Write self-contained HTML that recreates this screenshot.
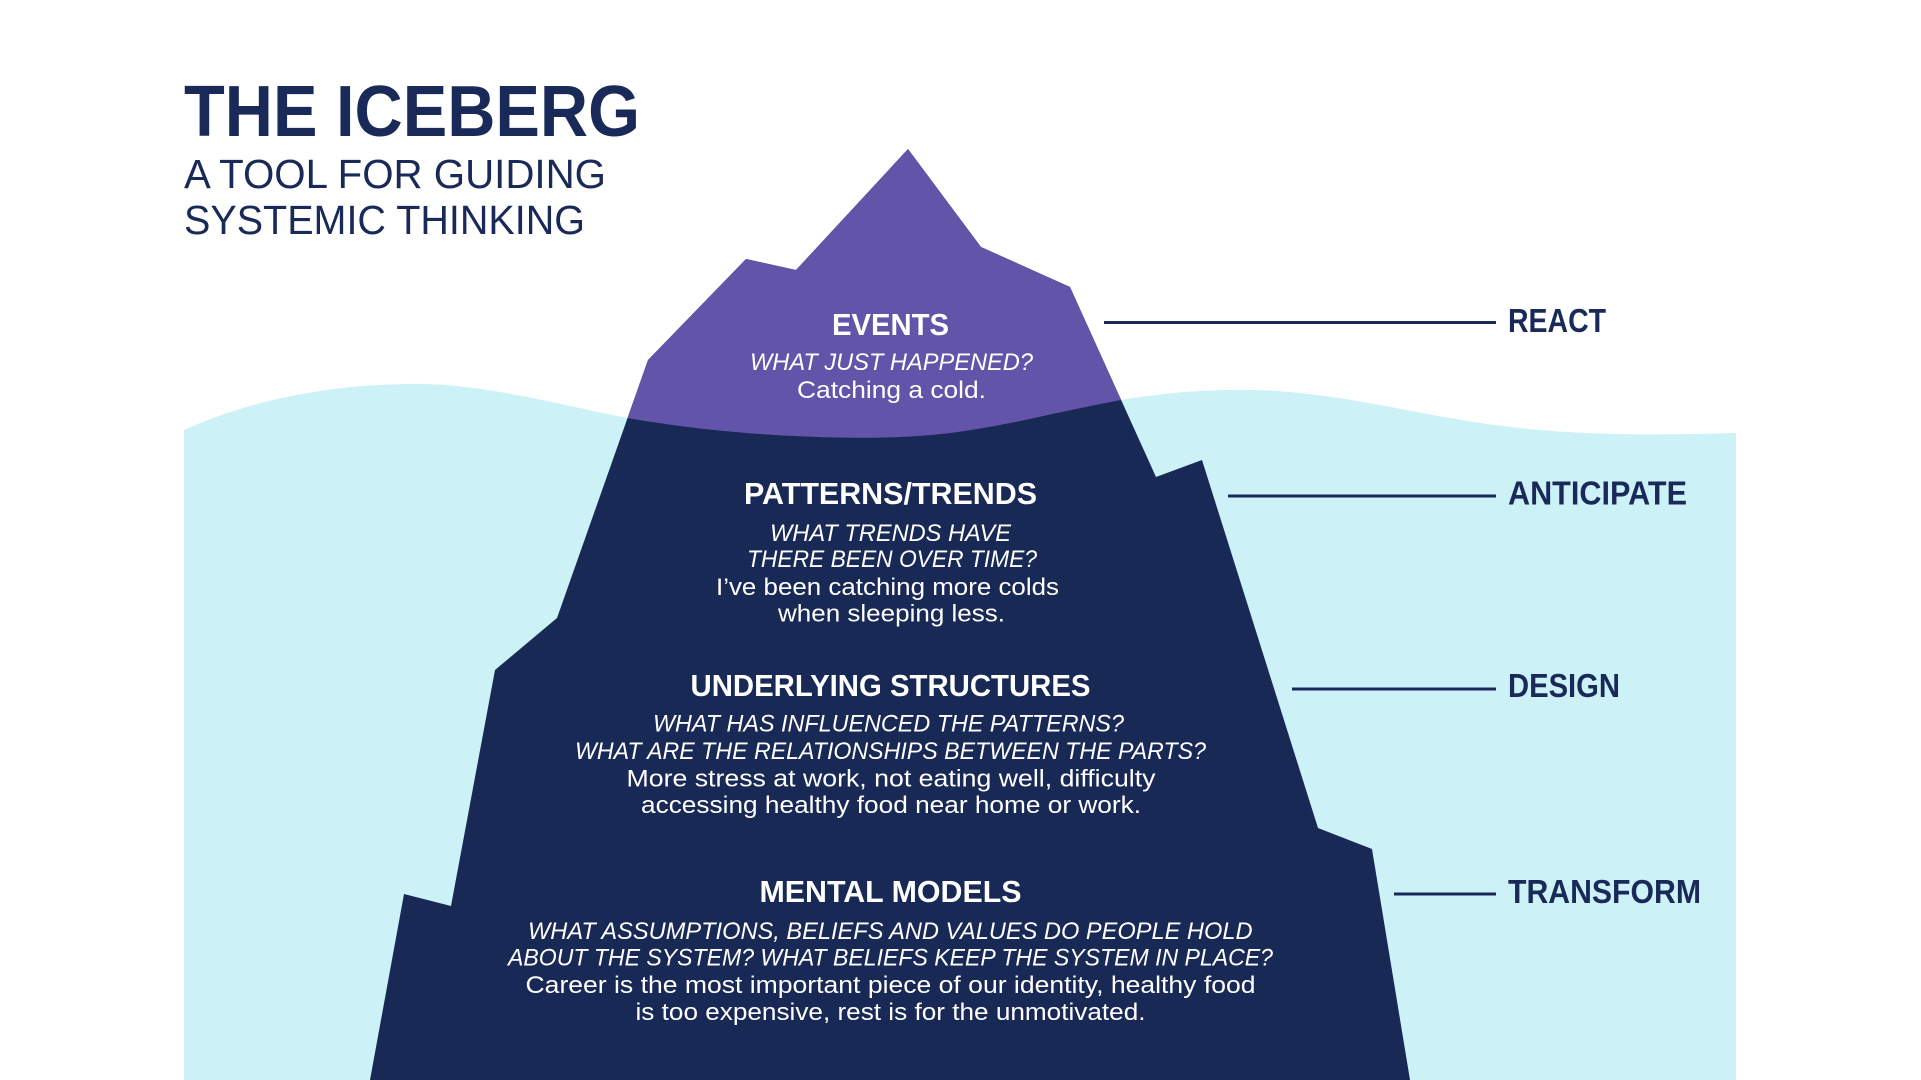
<!DOCTYPE html>
<html>
<head>
<meta charset="utf-8">
<style>
html,body{margin:0;padding:0;background:#ffffff;width:1921px;height:1080px;overflow:hidden}
svg{display:block}
.h{font-family:"Liberation Sans",Arial,sans-serif;font-weight:bold;fill:#ffffff}
.q{font-family:"Liberation Sans",Arial,sans-serif;font-style:italic;fill:#ffffff}
.b{font-family:"Liberation Sans",Arial,sans-serif;fill:#ffffff}
.lbl{font-family:"Liberation Sans",Arial,sans-serif;font-weight:bold;fill:#1a2a58}
</style>
</head>
<body>
<svg width="1921" height="1080" viewBox="0 0 1921 1080" xmlns="http://www.w3.org/2000/svg">
  <defs>
    <clipPath id="above">
      <path d="M0,0 L1921,0 L1921,433 L1736,433 C1600,437 1530,432 1450,418 C1400,410 1330,392 1254,390 C1210,389 1170,392 1121,400 C1040,415 980,434 900,437 C820,440 720,434 627,418 C540,400 480,384 416,384 C330,384 250,400 184,430 L0,430 Z"/>
    </clipPath>
  </defs>

  <rect x="0" y="0" width="1921" height="1080" fill="#ffffff"/>

  <!-- water -->
  <path d="M184,430 C250,400 330,384 416,384 C480,384 540,400 627,418 C720,434 820,440 900,437 C980,434 1040,415 1121,400 C1170,392 1210,389 1254,390 C1330,392 1400,410 1450,418 C1530,432 1600,437 1736,433 L1736,1080 L184,1080 Z" fill="#ccf2f8"/>

  <!-- iceberg (underwater navy) -->
  <polygon points="908,149 981,247 1070,287 1156,477 1202,460 1318,828 1372,849 1410,1080 370,1080 404,894 451,906 495,670 557,618 648,360 746,259 796,270" fill="#182955"/>
  <!-- iceberg tip (purple, above water) -->
  <polygon clip-path="url(#above)" points="908,149 981,247 1070,287 1156,477 1202,460 1318,828 1372,849 1410,1080 370,1080 404,894 451,906 495,670 557,618 648,360 746,259 796,270" fill="#6254a8"/>

  <!-- title -->
  <text class="lbl" x="184" y="136" font-size="72" textLength="456" lengthAdjust="spacingAndGlyphs">THE ICEBERG</text>
  <text x="184" y="188" font-family="Liberation Sans, Arial, sans-serif" font-size="41" fill="#1a2a58" textLength="422" lengthAdjust="spacingAndGlyphs">A TOOL FOR GUIDING</text>
  <text x="184" y="234" font-family="Liberation Sans, Arial, sans-serif" font-size="41" fill="#1a2a58" textLength="401" lengthAdjust="spacingAndGlyphs">SYSTEMIC THINKING</text>

  <!-- connectors -->
  <line x1="1104" y1="322.5" x2="1496" y2="322.5" stroke="#1a2a58" stroke-width="3"/>
  <line x1="1228" y1="496" x2="1496" y2="496" stroke="#1a2a58" stroke-width="3"/>
  <line x1="1292" y1="689" x2="1496" y2="689" stroke="#1a2a58" stroke-width="3"/>
  <line x1="1394" y1="894" x2="1496" y2="894" stroke="#1a2a58" stroke-width="3"/>

  <!-- right labels -->
  <text class="lbl" x="1508" y="332" font-size="33" textLength="98" lengthAdjust="spacingAndGlyphs">REACT</text>
  <text class="lbl" x="1508" y="504.5" font-size="33" textLength="179" lengthAdjust="spacingAndGlyphs">ANTICIPATE</text>
  <text class="lbl" x="1508" y="697" font-size="33" textLength="112" lengthAdjust="spacingAndGlyphs">DESIGN</text>
  <text class="lbl" x="1508" y="903" font-size="33" textLength="193" lengthAdjust="spacingAndGlyphs">TRANSFORM</text>

  <!-- EVENTS -->
  <text class="h" x="832" y="335" font-size="30.5" textLength="117" lengthAdjust="spacingAndGlyphs">EVENTS</text>
  <text class="q" x="750" y="370" font-size="24.5" textLength="283" lengthAdjust="spacingAndGlyphs">WHAT JUST HAPPENED?</text>
  <text class="b" x="797" y="398" font-size="24" textLength="189" lengthAdjust="spacingAndGlyphs">Catching a cold.</text>

  <!-- PATTERNS -->
  <text class="h" x="744" y="504" font-size="30.5" textLength="293" lengthAdjust="spacingAndGlyphs">PATTERNS/TRENDS</text>
  <text class="q" x="770" y="541" font-size="24.5" textLength="241" lengthAdjust="spacingAndGlyphs">WHAT TRENDS HAVE</text>
  <text class="q" x="747" y="567" font-size="24.5" textLength="290" lengthAdjust="spacingAndGlyphs">THERE BEEN OVER TIME?</text>
  <text class="b" x="716" y="595" font-size="24.5" textLength="343" lengthAdjust="spacingAndGlyphs">I’ve been catching more colds</text>
  <text class="b" x="778" y="621.5" font-size="24.5" textLength="227" lengthAdjust="spacingAndGlyphs">when sleeping less.</text>

  <!-- UNDERLYING STRUCTURES -->
  <text class="h" x="690.5" y="696" font-size="30.5" textLength="400" lengthAdjust="spacingAndGlyphs">UNDERLYING STRUCTURES</text>
  <text class="q" x="653" y="731.5" font-size="24.5" textLength="471" lengthAdjust="spacingAndGlyphs">WHAT HAS INFLUENCED THE PATTERNS?</text>
  <text class="q" x="575" y="759" font-size="24.5" textLength="631" lengthAdjust="spacingAndGlyphs">WHAT ARE THE RELATIONSHIPS BETWEEN THE PARTS?</text>
  <text class="b" x="626.5" y="786.5" font-size="24.5" textLength="529" lengthAdjust="spacingAndGlyphs">More stress at work, not eating well, difficulty</text>
  <text class="b" x="641" y="813" font-size="24.5" textLength="500" lengthAdjust="spacingAndGlyphs">accessing healthy food near home or work.</text>

  <!-- MENTAL MODELS -->
  <text class="h" x="759.5" y="902" font-size="30.5" textLength="262" lengthAdjust="spacingAndGlyphs">MENTAL MODELS</text>
  <text class="q" x="528" y="939" font-size="24.5" textLength="724.5" lengthAdjust="spacingAndGlyphs">WHAT ASSUMPTIONS, BELIEFS AND VALUES DO PEOPLE HOLD</text>
  <text class="q" x="508" y="965.5" font-size="24.5" textLength="765" lengthAdjust="spacingAndGlyphs">ABOUT THE SYSTEM? WHAT BELIEFS KEEP THE SYSTEM IN PLACE?</text>
  <text class="b" x="525.5" y="993" font-size="24.5" textLength="730" lengthAdjust="spacingAndGlyphs">Career is the most important piece of our identity, healthy food</text>
  <text class="b" x="635.5" y="1020" font-size="24.5" textLength="510" lengthAdjust="spacingAndGlyphs">is too expensive, rest is for the unmotivated.</text>
</svg>
</body>
</html>
